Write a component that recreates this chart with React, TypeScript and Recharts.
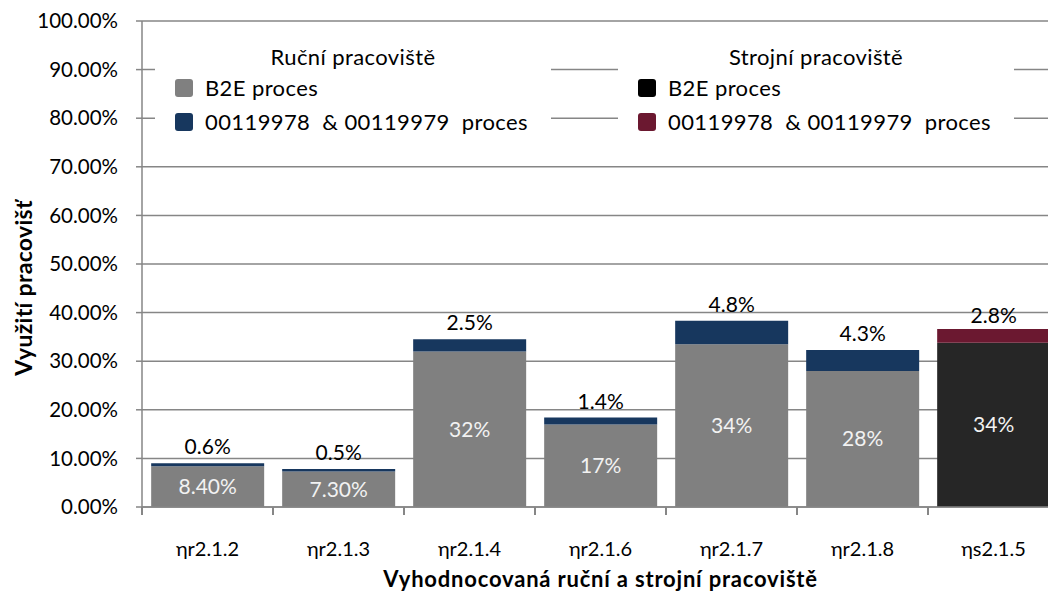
import React from "react";
import { BarChart, Bar, XAxis, YAxis, CartesianGrid, LabelList } from "recharts";

const categories = ["ηr2.1.2", "ηr2.1.3", "ηr2.1.4", "ηr2.1.6", "ηr2.1.7", "ηr2.1.8", "ηs2.1.5"];
const rucniB2E = [8.4, 7.3, 32, 17, 33.5, 28, null];
const rucniProces = [0.6, 0.5, 2.5, 1.4, 4.8, 4.3, null];
const strojniB2E = [null, null, null, null, null, null, 33.8];
const strojniProces = [null, null, null, null, null, null, 2.8];
const b2eLabels = ["8.40%", "7.30%", "32%", "17%", "34%", "28%", "34%"];
const procesLabels = ["0.6%", "0.5%", "2.5%", "1.4%", "4.8%", "4.3%", "2.8%"];
const yTicks = [0, 10, 20, 30, 40, 50, 60, 70, 80, 90, 100];

const FONT = "Lato, 'Open Sans', sans-serif";
const AXIS = "#868686";
const GRAY = "#808080";
const NAVY = "#17375e";
const DARK = "#262626";
const MAROON = "#6b1830";

const CHART_W = 1070;
const MARGIN = { top: 21, right: 11, left: 0, bottom: 0 };
const Y_AXIS_W = 142;
const PLOT_W = CHART_W - MARGIN.left - MARGIN.right - Y_AXIS_W;

const data = categories.map((name, i) => ({
  name,
  rucniB2E: rucniB2E[i],
  rucniProces: rucniProces[i],
  strojniB2E: strojniB2E[i],
  strojniProces: strojniProces[i],
  rucniB2ELabel: rucniB2E[i] != null ? b2eLabels[i] : "",
  rucniProcesLabel: rucniProces[i] != null ? procesLabels[i] : "",
  strojniB2ELabel: strojniB2E[i] != null ? b2eLabels[i] : "",
  strojniProcesLabel: strojniProces[i] != null ? procesLabels[i] : "",
}));

// category label plus a tick mark on the boundary left of it
function CategoryTick(p: any) {
  const half = PLOT_W / categories.length / 2;
  const left = Number(p.x) - half;
  const top = Number(p.y);
  return (
    <g>
      <rect x={left - 1} y={top} width={2} height={8} fill={AXIS} />
      <text x={p.x} y={top + 41} textAnchor="middle" dominantBaseline="central" fill="#000" fontSize={20} fontFamily={FONT}>
        {p.payload.value}
      </text>
    </g>
  );
}

function LegendBox({ left, width, title, items }: { left: number; width: number; title: string; items: { color: string; label: string }[] }) {
  return (
    <div style={{ position: "absolute", left, top: 36, width, height: 112, background: "#fff", fontFamily: FONT, fontSize: 22, letterSpacing: 0.4, color: "#000" }}>
      <div style={{ position: "absolute", top: 8, width: "100%", textAlign: "center", lineHeight: "26px" }}>{title}</div>
      {items.map((it, i) => (
        <div key={it.label} style={{ position: "absolute", left: 20, top: 39 + i * 34, display: "flex", alignItems: "center", lineHeight: "26px", whiteSpace: "pre" }}>
          <span style={{ display: "inline-block", width: 18, height: 18, borderRadius: 3, background: it.color, marginRight: 12 }} />
          {it.label}
        </div>
      ))}
    </div>
  );
}

export default function App() {
  return (
    <div style={{ position: "absolute", left: 0, top: 0, width: 1048, height: 591, overflow: "hidden", background: "#fff" }}>
      <BarChart width={CHART_W} height={591} data={data} margin={MARGIN} barCategoryGap="7%">
        <CartesianGrid vertical={false} stroke={AXIS} strokeWidth={1.5} />
        <XAxis
          dataKey="name"
          height={84}
          stroke={AXIS}
          strokeWidth={1.5}
          tickLine={false}
          tickSize={0}
          tickMargin={0}
          interval={0}
          tick={(p: any) => <CategoryTick {...p} />}
          label={(p: any) => {
            const vb = p.viewBox;
            return (
              <text x={vb.x + vb.width / 2} y={vb.y + 71} textAnchor="middle" dominantBaseline="central" fontFamily={FONT} fontWeight={700} fontSize={22} letterSpacing={0.8} fill="#000">
                Vyhodnocovaná ruční a strojní pracoviště
              </text>
            );
          }}
        />
        <YAxis
          width={Y_AXIS_W}
          domain={[0, 100]}
          ticks={yTicks}
          interval={0}
          stroke={AXIS}
          strokeWidth={1.5}
          tickSize={6}
          tickMargin={18}
          tickFormatter={(v: number) => `${v.toFixed(2)}%`}
          tick={{ fill: "#000", fontSize: 20.5, fontFamily: FONT }}
          label={(p: any) => {
            const vb = p.viewBox;
            return (
              <text transform={`translate(${vb.x + 23},${vb.y + vb.height / 2 + 24}) rotate(-90)`} textAnchor="middle" dominantBaseline="central" fontFamily={FONT} fontWeight={700} fontSize={23} letterSpacing={0.3} fill="#000">
                Využití pracovišť
              </text>
            );
          }}
        />
        <Bar dataKey="rucniB2E" stackId="a" fill={GRAY} isAnimationActive={false}>
          <LabelList dataKey="rucniB2ELabel" position="center" fill="#f2f2f2" fontSize={21} fontFamily={FONT} />
        </Bar>
        <Bar dataKey="rucniProces" stackId="a" fill={NAVY} isAnimationActive={false}>
          <LabelList dataKey="rucniProcesLabel" position="top" offset={9} fill="#000" fontSize={21} fontFamily={FONT} />
        </Bar>
        <Bar dataKey="strojniB2E" stackId="a" fill={DARK} isAnimationActive={false}>
          <LabelList dataKey="strojniB2ELabel" position="center" fill="#f2f2f2" fontSize={21} fontFamily={FONT} />
        </Bar>
        <Bar dataKey="strojniProces" stackId="a" fill={MAROON} isAnimationActive={false}>
          <LabelList dataKey="strojniProcesLabel" position="top" offset={6} fill="#000" fontSize={21} fontFamily={FONT} />
        </Bar>
      </BarChart>
      <LegendBox
        left={155}
        width={396}
        title="Ruční pracoviště"
        items={[
          { color: GRAY, label: "B2E proces" },
          { color: NAVY, label: "00119978  & 00119979  proces" },
        ]}
      />
      <LegendBox
        left={618}
        width={396}
        title="Strojní pracoviště"
        items={[
          { color: "#000", label: "B2E proces" },
          { color: MAROON, label: "00119978  & 00119979  proces" },
        ]}
      />
    </div>
  );
}
